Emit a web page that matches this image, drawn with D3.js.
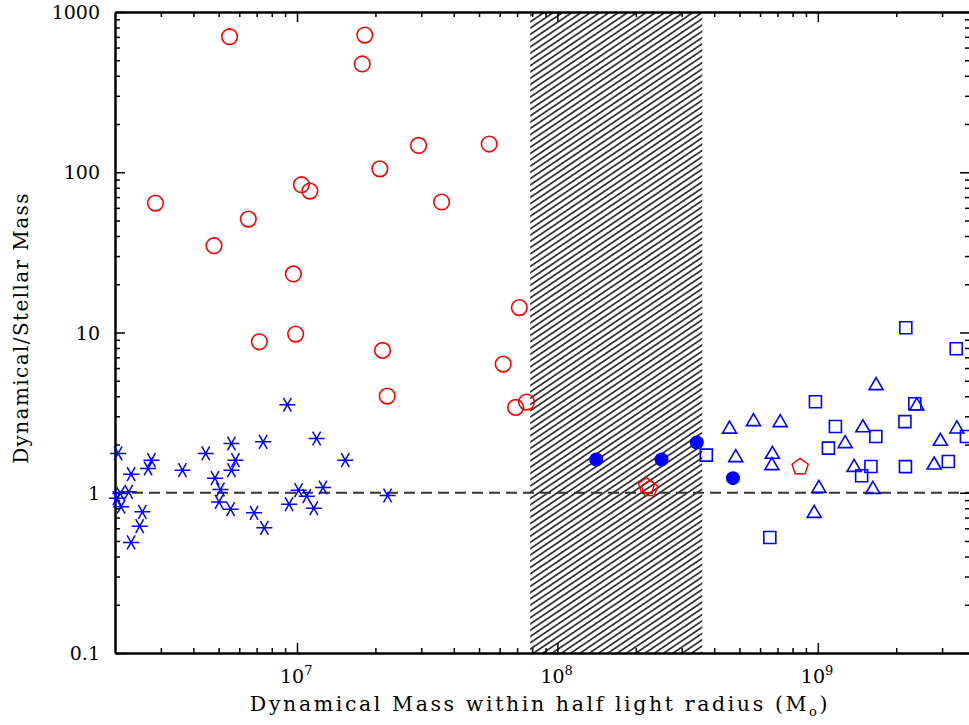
<!DOCTYPE html>
<html>
<head>
<meta charset="utf-8">
<script src="https://cdn.jsdelivr.net/npm/d3@7"></script>
<style>
  body { margin: 0; background: #fff; }
  text { font-family: "DejaVu Serif", serif; fill: #000; }
</style>
</head>
<body>
<script>
// [dynamical mass (Msun), dynamical/stellar mass]
const openCircles = [
  [5.51e6, 701], [1.82e7, 718], [1.78e7, 474], [2.93e7, 147], [5.47e7, 150],
  [2.08e7, 105], [1.04e7, 83.6], [1.12e7, 76.3], [2.86e6, 64.2], [3.59e7, 65.2],
  [6.5e6, 51], [4.8e6, 34.8], [9.68e6, 23.2], [7.14e7, 14.3], [9.88e6, 9.77],
  [7.17e6, 8.75], [2.13e7, 7.73], [6.19e7, 6.35], [2.22e7, 4.01], [7.61e7, 3.68],
  [6.91e7, 3.41]
];
const stars = [
  [2.056e6, 1.76], [2.097e6, 0.99], [2.257e6, 1.013], [2.11e6, 0.817], [2.034e6, 0.925],
  [2.306e6, 1.306], [2.547e6, 0.76], [2.488e6, 0.619], [2.306e6, 0.49], [2.68e6, 1.418],
  [2.76e6, 1.598], [3.63e6, 1.384], [4.46e6, 1.76], [4.84e6, 1.233], [5.08e6, 1.048],
  [5.02e6, 0.877], [5.56e6, 0.79], [5.6e6, 2.03], [5.8e6, 1.598], [5.6e6, 1.384],
  [6.84e6, 0.749], [7.41e6, 2.078], [7.49e6, 0.604], [9.18e6, 3.54], [9.32e6, 0.849],
  [1.014e7, 1.038], [1.09e7, 0.952], [1.16e7, 0.801], [1.189e7, 2.18], [1.258e7, 1.079],
  [1.532e7, 1.598], [2.227e7, 0.962]
];
const filledCircles = [[1.409e8, 1.614], [2.51e8, 1.614], [3.43e8, 2.06], [4.72e8, 1.233]];
const pentagons = [[2.2e8, 1.10], [2.26e8, 1.061], [8.55e8, 1.45]];
const squares = [
  [2.177e9, 10.7], [3.40e9, 7.91], [9.79e8, 3.70], [2.357e9, 3.59], [2.16e9, 2.78],
  [1.168e9, 2.59], [1.67e9, 2.245], [3.72e9, 2.245], [1.098e9, 1.898], [3.73e8, 1.717],
  [1.599e9, 1.459], [2.17e9, 1.455], [3.17e9, 1.568], [1.473e9, 1.278], [6.54e8, 0.526]
];
const triangles = [
  [1.674e9, 4.76], [2.4e9, 3.56], [5.66e8, 2.84], [7.17e8, 2.80], [4.58e8, 2.55],
  [1.489e9, 2.60], [1.273e9, 2.07], [3.42e9, 2.556], [2.956e9, 2.14], [4.84e8, 1.692],
  [6.69e8, 1.775], [6.66e8, 1.508], [1.378e9, 1.472], [2.796e9, 1.523], [1.009e9, 1.088],
  [1.626e9, 1.073], [9.68e8, 0.760]
];
const hatchBand = [7.86e7, 3.6e8];
const refLine = 1;
const yTicks = [0.1, 1, 10, 100, 1000];
const yTickLabels = ['0.1', '1', '10', '100', '1000'];
const xTickExps = [7, 8, 9];

const W = 969, H = 725;
const pL = 115, pR = 970, pT = 12, pB = 653;
const red = '#ff0000', blue = '#0000ff';

const svg = d3.select('body').append('svg')
  .attr('width', W).attr('height', H);

const x = d3.scaleLog().domain([2.0e6, 3.84e9]).range([pL, pR]);
const y = d3.scaleLog().domain([0.1, 1000]).range([pB, pT]);

function minors(scale) {
  const [a, b] = scale.domain();
  const out = [];
  for (let e = Math.floor(Math.log10(a)); e <= Math.ceil(Math.log10(b)); e++) {
    for (let m = 2; m <= 9; m++) {
      const v = m * Math.pow(10, e);
      if (v > a && v < b) out.push(v);
    }
  }
  return out;
}
const xMajor = xTickExps.map(e => Math.pow(10, e));

// hatched band
const defs = svg.append('defs');
const pat = defs.append('pattern')
  .attr('id', 'hatch')
  .attr('patternUnits', 'userSpaceOnUse')
  .attr('width', 10).attr('height', 5.2)
  .attr('patternTransform', 'rotate(-34)');
pat.append('line')
  .attr('x1', 0).attr('x2', 10).attr('y1', 2.6).attr('y2', 2.6)
  .attr('stroke', '#000').attr('stroke-width', 1.4);

svg.append('rect')
  .attr('x', x(hatchBand[0])).attr('y', pT)
  .attr('width', x(hatchBand[1]) - x(hatchBand[0]))
  .attr('height', pB - pT)
  .attr('fill', 'url(#hatch)');

// dashed reference line
svg.append('line')
  .attr('x1', pL).attr('x2', pR)
  .attr('y1', y(refLine)).attr('y2', y(refLine))
  .attr('stroke', '#333').attr('stroke-width', 2)
  .attr('stroke-dasharray', '11,6');

// axes (ticks inside)
function drawAxis(axisFn, scale, major, transform) {
  const g = svg.append('g').attr('transform', transform);
  g.call(axisFn(scale).tickValues(minors(scale)).tickSize(5).tickSizeOuter(0).tickFormat(''));
  g.append('g').call(axisFn(scale).tickValues(major).tickSize(10).tickSizeOuter(0).tickFormat(''));
  g.selectAll('path').attr('stroke', '#000').attr('stroke-width', 2);
  g.selectAll('line').attr('stroke', '#000').attr('stroke-width', 1.5);
  return g;
}
drawAxis(d3.axisTop, x, xMajor, `translate(0,${pB})`);
drawAxis(d3.axisBottom, x, xMajor, `translate(0,${pT})`);
drawAxis(d3.axisRight, y, yTicks, `translate(${pL},0)`);
drawAxis(d3.axisLeft, y, yTicks, `translate(${pR},0)`);

// tick labels
svg.append('g').selectAll('text')
  .data(yTicks)
  .join('text')
  .attr('x', 100).attr('y', d => y(d) + 7)
  .attr('text-anchor', 'end')
  .attr('font-size', 19)
  .text((d, i) => yTickLabels[i]);

const xl = svg.append('g').selectAll('text')
  .data(xTickExps)
  .join('text')
  .attr('x', d => x(Math.pow(10, d)) - 17)
  .attr('y', 683)
  .attr('font-size', 19);
xl.append('tspan').text('10');
xl.append('tspan').attr('font-size', 13).attr('dy', -8).text(d => d);

// axis titles
const xt = svg.append('text')
  .attr('x', 540).attr('y', 711)
  .attr('text-anchor', 'middle')
  .attr('font-size', 20.5)
  .attr('letter-spacing', 2.6);
xt.append('tspan').text('Dynamical Mass within half light radius (M');
xt.append('tspan').attr('font-size', 13).attr('dy', 5).text('o');
xt.append('tspan').attr('dy', -5).text(')');

svg.append('text')
  .attr('transform', 'translate(28,328) rotate(-90)')
  .attr('text-anchor', 'middle')
  .attr('font-size', 20)
  .attr('letter-spacing', 1.4)
  .text('Dynamical/Stellar Mass');

// markers
const marks = svg.append('g');

marks.append('g').selectAll('circle')
  .data(openCircles).join('circle')
  .attr('cx', d => x(d[0])).attr('cy', d => y(d[1])).attr('r', 7.8)
  .attr('fill', 'none').attr('stroke', red).attr('stroke-width', 1.6);

const starPath = (() => {
  const r = 8, p = d3.path();
  for (const a of [0, 60, 120]) {
    const t = a * Math.PI / 180;
    p.moveTo(-r * Math.cos(t), -r * Math.sin(t));
    p.lineTo(r * Math.cos(t), r * Math.sin(t));
  }
  return p.toString();
})();
marks.append('g').selectAll('path')
  .data(stars).join('path')
  .attr('transform', d => `translate(${x(d[0])},${y(d[1])})`)
  .attr('d', starPath)
  .attr('fill', 'none').attr('stroke', blue).attr('stroke-width', 1.5);

const squarePath = 'M-6,-6H6V6H-6Z';
marks.append('g').selectAll('path')
  .data(squares).join('path')
  .attr('transform', d => `translate(${x(d[0])},${y(d[1])})`)
  .attr('d', squarePath)
  .attr('fill', 'none').attr('stroke', blue).attr('stroke-width', 1.6);

const triPath = 'M0,-6.5L7,5.5H-7Z';
marks.append('g').selectAll('path')
  .data(triangles).join('path')
  .attr('transform', d => `translate(${x(d[0])},${y(d[1])})`)
  .attr('d', triPath)
  .attr('fill', 'none').attr('stroke', blue).attr('stroke-width', 1.6);

const pentPath = d3.line()(d3.range(5).map(k => {
  const t = (-90 + k * 72) * Math.PI / 180;
  return [8.5 * Math.cos(t), 8.5 * Math.sin(t)];
})) + 'Z';
marks.append('g').selectAll('path')
  .data(pentagons).join('path')
  .attr('transform', d => `translate(${x(d[0])},${y(d[1])})`)
  .attr('d', pentPath)
  .attr('fill', 'none').attr('stroke', red).attr('stroke-width', 1.4);

marks.append('g').selectAll('circle')
  .data(filledCircles).join('circle')
  .attr('cx', d => x(d[0])).attr('cy', d => y(d[1])).attr('r', 7)
  .attr('fill', blue);
</script>
</body>
</html>
